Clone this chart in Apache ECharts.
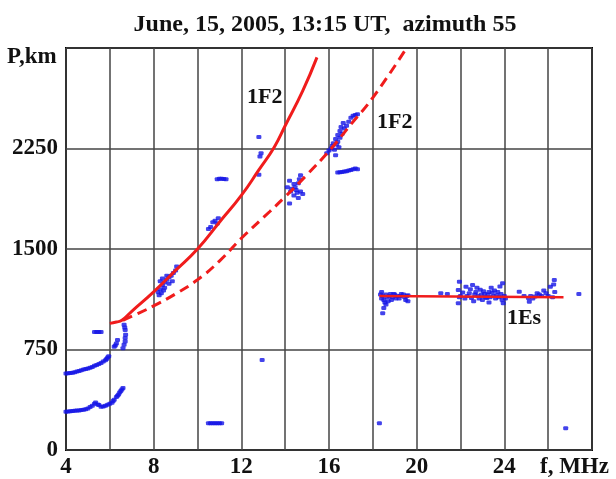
<!DOCTYPE html>
<html>
<head>
<meta charset="utf-8">
<script src="https://cdn.jsdelivr.net/npm/echarts@6/dist/echarts.min.js"></script>
<style>
html,body{margin:0;padding:0;background:#fff;}
#c{width:616px;height:479px;}
</style>
</head>
<body>
<div id="c"></div>
<script>
// ---- data (f in MHz, P in km) ----
var titleText = 'June, 15, 2005, 13:15 UT,  azimuth 55';
var xTicks = [4, 8, 12, 16, 20, 24];
var yTicks = [0, 750, 1500, 2250];

// model curves
var f2Solid = [[6.0,945],[6.3,955],[6.55,968],[7.0,1035],[8.0,1180],[9.0,1340],[10.0,1500],[11.0,1700],[12.0,1900],[12.8,2090],[13.5,2260],[14.0,2420],[14.8,2680],[15.45,2930]];
var f2Dashed = [[6.6,968],[7.3,1020],[8.0,1075],[9.0,1165],[10.0,1270],[11.0,1410],[12.0,1580],[13.3,1780],[14.0,1890],[15.0,2055],[16.1,2250],[17.0,2430],[18.0,2630],[19.5,2990]];
var esLine = [[18.3,1150],[26.7,1140]];

// observed points
var trackLow = [[4.0,285],[4.1,288],[4.2,290],[4.3,291],[4.4,292],[4.5,294],[4.6,295],[4.7,298],[4.8,300],[4.9,305],[5.0,310],[5.1,320],[5.2,330],[5.3,345],[5.35,355],[5.45,340],[5.5,335],[5.6,322],[5.7,325],[5.8,330],[5.9,338],[6.0,345],[6.1,352],[6.15,365],[6.2,375],[6.3,395],[6.35,405],[6.4,415],[6.45,430],[6.5,440],[6.55,452],[6.6,462]];
var trackHigh = [[4.0,570],[4.1,572],[4.2,575],[4.3,577],[4.4,580],[4.5,585],[4.6,590],[4.7,595],[4.8,600],[4.9,604],[5.0,608],[5.1,614],[5.2,620],[5.3,628],[5.4,635],[5.5,642],[5.6,650],[5.7,660],[5.8,670],[5.85,680],[5.9,690],[5.95,700]];
var cluster6 = [[5.3,880],[5.4,880],[5.5,880],[5.6,880],[6.2,770],[6.25,780],[6.3,795],[6.35,820],[6.6,760],[6.65,785],[6.7,810],[6.7,835],[6.72,860],[6.7,895],[6.68,915],[6.65,935]];
var cluster8 = [[8.2,1180],[8.3,1200],[8.35,1170],[8.4,1230],[8.5,1250],[8.5,1210],[8.6,1270],[8.7,1240],[8.7,1290],[8.8,1300],[8.85,1260],[8.9,1320],[9.0,1340],[9.05,1370],[8.3,1260],[8.4,1280],[8.6,1300],[8.25,1155],[8.45,1190]];
var cluster10 = [[10.5,1650],[10.6,1665],[10.7,1700],[10.8,1710],[10.95,1730],[10.9,1690],[10.9,2020],[11.0,2025],[11.1,2025],[11.2,2022],[11.3,2020]];
var cluster12 = [[12.8,2335],[12.85,2190],[12.9,2215],[12.8,2055],[12.95,672]];
var cluster14 = [[14.1,1960],[14.2,2010],[14.25,1930],[14.3,1950],[14.4,1900],[14.45,1960],[14.5,1940],[14.55,1920],[14.6,1990],[14.7,2050],[14.7,1930],[14.8,1910],[14.2,1840],[14.6,1880],[14.4,1985],[14.65,2020]];
var cluster16 = [[15.9,2215],[16.0,2235],[16.1,2250],[16.15,2270],[16.2,2290],[16.25,2240],[16.3,2320],[16.35,2280],[16.4,2350],[16.4,2300],[16.5,2380],[16.5,2330],[16.55,2410],[16.6,2360],[16.65,2440],[16.7,2400],[16.8,2420],[16.9,2450],[17.0,2480],[17.1,2495],[17.2,2500],[17.3,2505],[16.45,2260],[16.3,2200],[16.4,2070],[16.5,2072],[16.6,2075],[16.7,2078],[16.8,2080],[16.9,2085],[17.0,2090],[17.1,2095],[17.2,2100],[17.3,2095]];
var clusterEs = [[18.4,1180],[18.45,1150],[18.5,1120],[18.6,1160],[18.7,1110],[18.8,1165],[18.9,1140],[19.0,1160],[19.1,1150],[19.2,1130],[19.3,1165],[19.4,1160],[19.5,1120],[19.55,1150],[18.5,1060],[18.45,1020],[18.4,1130],[18.55,1100],[19.6,1155],
  [18.65,1140],[18.75,1150],[18.85,1120],[18.95,1165],[19.05,1130],[19.25,1150],[19.45,1140],[19.6,1110],[18.35,1160],[18.6,1085],
  [21.1,1170],[21.95,1256],[21.9,1194],[21.9,1095],[22.0,1150],[22.25,1219],[22.4,1170],[22.55,1231],[22.7,1180],[22.8,1150],[22.9,1195],[23.0,1120],[23.1,1165],[23.2,1135],[23.3,1180],[23.4,1210],[23.5,1150],[23.6,1130],[23.7,1180],[23.8,1220],[23.92,1244],[23.95,1095],[22.2,1130],[22.6,1110],[23.3,1100],[24.0,1150],
  [21.95,1140],[22.1,1175],[22.3,1150],[22.45,1200],[22.5,1135],[22.65,1160],[22.75,1210],[22.85,1130],[22.95,1160],[23.05,1185],[23.15,1140],[23.25,1160],[23.35,1140],[23.45,1175],[23.55,1190],[23.65,1155],[23.75,1140],[23.85,1165],[23.9,1120],[24.05,1130],[21.4,1165],
  [24.68,1181],[25.14,1107],[25.2,1150],[25.4,1145],[25.6,1160],[25.8,1190],[26.1,1219],[26.28,1269],[26.3,1180],[26.2,1140],[27.4,1164],
  [25.3,1130],[25.5,1170],[25.7,1150],[25.9,1170],[26.0,1150],[26.25,1235],[24.9,1150],[25.1,1135]];
var lowDots = [[10.5,200],[10.6,200],[10.7,200],[10.8,200],[10.9,200],[11.0,200],[11.1,200],[18.3,199],[26.8,162]];

var bluePts = [].concat(trackLow, trackHigh, cluster6, cluster8, cluster10, cluster12, cluster14, cluster16, clusterEs, lowDots);

var chart = echarts.init(document.getElementById('c'), null, {renderer:'canvas'});
var serif = '"Liberation Serif","Times New Roman",serif';
var red = '#f01c1c';
var blue = '#1414e6';

chart.setOption({
  animation: false,
  backgroundColor: '#fff',
  title: {
    text: titleText, left: 320, top: 8, textAlign: 'center',
    textStyle: {fontFamily: serif, fontWeight: 'bold', fontSize: 24, color: '#111'}
  },
  grid: {left: 66, right: 24, top: 48, bottom: 29, show: true, borderColor: '#000', borderWidth: 2, backgroundColor: 'transparent'},
  xAxis: {
    type: 'value', min: 4, max: 28, interval: 2,
    axisLine: {show: false}, axisTick: {show: false},
    splitLine: {show: true, lineStyle: {color: '#444', width: 1.5}},
    axisLabel: {
      margin: 6, fontFamily: serif, fontWeight: 'bold', fontSize: 23, color: '#111',
      formatter: function (v) { return xTicks.indexOf(v) >= 0 ? String(v) : ''; }
    }
  },
  yAxis: {
    type: 'value', min: 0, max: 3000, interval: 750,
    axisLine: {show: false}, axisTick: {show: false},
    splitLine: {show: true, lineStyle: {color: '#444', width: 1.5}},
    axisLabel: {
      margin: 8, fontFamily: serif, fontWeight: 'bold', fontSize: 23, color: '#111',
      formatter: function (v) { return yTicks.indexOf(v) >= 0 ? String(v) : ''; }
    }
  },
  graphic: [
    {type: 'text', left: 7, top: 46, style: {text: 'P,km', font: 'bold 23px ' + serif, fill: '#111'}},
    {type: 'text', left: 540, top: 456, style: {text: 'f, MHz', font: 'bold 23px ' + serif, fill: '#111'}}
  ],
  series: [
    {
      type: 'scatter', data: bluePts, symbol: 'roundRect', symbolSize: [5, 4],
      itemStyle: {color: blue}, z: 3
    },
    {
      type: 'line', data: f2Solid, smooth: true, showSymbol: false,
      lineStyle: {color: red, width: 3}, z: 4,
      markPoint: {symbolSize: 0, data: [{coord: [13.07, 2634], value: '1F2'}],
        label: {show: true, formatter: '1F2', fontFamily: serif, fontWeight: 'bold', fontSize: 22, color: '#111'}}
    },
    {
      type: 'line', data: f2Dashed, smooth: true, showSymbol: false,
      lineStyle: {color: red, width: 3, type: [10, 6]}, z: 4,
      markPoint: {symbolSize: 0, data: [{coord: [19.0, 2448], value: '1F2'}],
        label: {show: true, formatter: '1F2', fontFamily: serif, fontWeight: 'bold', fontSize: 22, color: '#111'}}
    },
    {
      type: 'line', data: esLine, showSymbol: false,
      lineStyle: {color: red, width: 2.5}, z: 4,
      markPoint: {symbolSize: 0, data: [{coord: [24.9, 985], value: '1Es'}],
        label: {show: true, formatter: '1Es', fontFamily: serif, fontWeight: 'bold', fontSize: 22, color: '#111'}}
    }
  ]
});
</script>
</body>
</html>
